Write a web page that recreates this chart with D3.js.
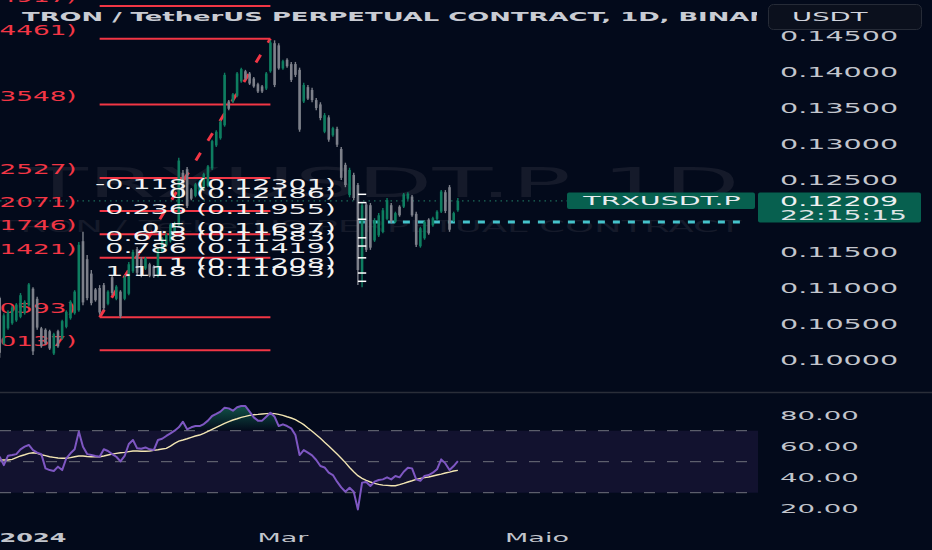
<!DOCTYPE html>
<html>
<head>
<meta charset="utf-8">
<script src="https://d3js.org/d3.v7.min.js"></script>
<style>
  html, body { margin: 0; padding: 0; background: #030a1b; }
  svg { display: block; }
</style>
</head>
<body>
<svg id="frame"></svg>
<script>
  // daily bars, first one is 2023-12-24
  var firstDay = '2023-12-24';

  var opens = [.1086,.1023,.1044,.1051,.1055,.1060,.1065,.1076,.1099,.1085,
    .1044,.1042,.1040,.1009,.1040,.1030,.1046,.1058,.1065,.1069,
    .1165,.1140,.1120,.1098,.1100,.1104,.1078,.1115,.1085,.1095,
    .1085,.1092,.1123,.1154,.1140,.1127,.1133,.1130,.1117,.1151,
    .1159,.1165,.1178,.1187,.1260,.1265,.1237,.1228,.1234,.1238,
    .1242,.1266,.1298,.1308,.1326,.1359,.1359,.1367,.1387,.1401,
    .1398,.1391,.1383,.1380,.1377,.1401,.1440,.1437,.1405,.1417,
    .1411,.1411,.1403,.1359,.1379,.1375,.1361,.1355,.1317,.1337,
    .1312,.1321,.1293,.1271,.1229,.1257,.1243,.1120,.1216,.1215,
    .1166,.1173,.1178,.1196,.1215,.1192,.1213,.1213,.1224,.1227,
    .1203,.1158,.1169,.1195,.1187,.1196,.1206,.1233,.1240,.1194,.1208];
  var highs = [.1088,.1065,.1069,.1075,.1079,.1093,.1083,.1107,.1101,.1088,
    .1046,.1044,.1042,.1038,.1042,.1056,.1069,.1083,.1097,.1164,
    .1178,.1146,.1125,.1100,.1104,.1107,.1097,.1118,.1104,.1097,
    .1118,.1136,.1153,.1157,.1143,.1143,.1135,.1132,.1157,.1171,
    .1176,.1190,.1192,.1281,.1264,.1268,.1239,.1246,.1250,.1260,
    .1271,.1306,.1319,.1333,.1399,.1361,.1371,.1400,.1406,.1403,
    .1400,.1393,.1385,.1382,.1400,.1444,.1444,.1440,.1417,.1419,
    .1414,.1414,.1406,.1385,.1382,.1378,.1364,.1358,.1343,.1340,
    .1324,.1324,.1296,.1274,.1267,.1260,.1246,.1218,.1219,.1218,
    .1197,.1204,.1211,.1225,.1218,.1206,.1215,.1232,.1233,.1229,
    .1206,.1185,.1194,.1197,.1199,.1208,.1236,.1236,.1243,.1206,.1225];
  var lows = [.1003,.1021,.1042,.1049,.1053,.1058,.1063,.1074,.1007,.1042,
    .1017,.1021,.1014,.1007,.1017,.1028,.1044,.1056,.1063,.1067,
    .1076,.1083,.1076,.1081,.1063,.1069,.1076,.1090,.1083,.1058,
    .1083,.1090,.1121,.1118,.1115,.1125,.1115,.1114,.1115,.1149,
    .1157,.1163,.1176,.1185,.1226,.1211,.1222,.1226,.1232,.1236,
    .1240,.1264,.1296,.1306,.1324,.1347,.1357,.1365,.1385,.1389,
    .1382,.1378,.1371,.1371,.1375,.1399,.1379,.1403,.1403,.1406,
    .1386,.1393,.1317,.1357,.1361,.1358,.1347,.1333,.1315,.1303,
    .1310,.1296,.1250,.1240,.1226,.1222,.1104,.1101,.1150,.1153,
    .1164,.1171,.1176,.1194,.1190,.1190,.1199,.1211,.1222,.1199,
    .1157,.1156,.1167,.1174,.1185,.1194,.1204,.1204,.1178,.1192,.1206];
  var closes = [.1010,.1062,.1067,.1073,.1077,.1090,.1081,.1105,.1012,.1045,
    .1019,.1023,.1016,.1036,.1019,.1054,.1067,.1081,.1095,.1160,
    .1080,.1086,.1079,.1083,.1066,.1072,.1095,.1093,.1102,.1061,
    .1115,.1133,.1150,.1121,.1118,.1141,.1117,.1116,.1155,.1169,
    .1174,.1188,.1190,.1277,.1229,.1214,.1224,.1244,.1248,.1258,
    .1269,.1304,.1317,.1331,.1396,.1349,.1369,.1398,.1404,.1391,
    .1384,.1380,.1373,.1373,.1398,.1441,.1382,.1405,.1415,.1408,
    .1389,.1396,.1320,.1382,.1363,.1361,.1350,.1336,.1340,.1306,
    .1322,.1299,.1253,.1243,.1264,.1225,.1125,.1215,.1153,.1156,
    .1194,.1201,.1208,.1222,.1193,.1204,.1201,.1230,.1231,.1201,
    .1160,.1183,.1192,.1176,.1197,.1206,.1234,.1207,.1181,.1204,.12209];

  var rsi = [53.2,47.8,53.9,54.3,54.9,58.0,59.7,60.8,57.5,55.8,
    54.9,45.7,44.6,44.0,46.8,44.6,52.2,55.4,58.0,69.4,
    59.7,54.9,54.3,53.7,53.2,58.0,56.9,54.9,53.2,50.2,
    53.7,61.4,64.0,58.6,58.4,59.2,58.0,57.5,64.0,64.8,
    66.6,68.3,70.0,72.2,75.8,70.9,72.2,73.0,73.0,74.3,
    76.5,79.5,80.8,82.3,84.8,84.4,82.9,85.1,85.9,85.9,
    82.3,78.6,76.5,76.5,79.0,81.6,79.0,73.0,74.1,73.0,
    71.5,67.2,54.3,57.5,55.8,54.1,51.1,47.2,46.3,42.9,
    41.4,37.1,33.4,30.6,33.2,30.6,19.2,36.5,36.9,34.3,
    37.1,38.2,38.6,39.9,38.6,40.8,39.9,43.5,46.1,45.7,
    38.6,37.7,40.8,41.4,42.9,45.1,51.5,48.9,44.6,47.2,50.4];
  var rsiMa = [51.1,51.1,51.1,51.5,52.6,53.7,54.5,55.4,55.8,55.4,
    54.5,53.9,53.2,52.8,52.4,52.2,52.2,52.6,53.2,53.7,
    53.7,53.4,53.2,53.2,53.2,53.7,54.3,54.9,55.4,55.8,
    56.0,56.5,56.9,56.9,56.7,56.7,56.9,57.3,57.7,58.2,
    58.6,60.1,61.8,63.3,64.0,64.8,65.7,66.6,67.2,68.3,
    69.6,70.9,72.2,73.4,74.7,75.8,76.9,77.7,78.6,79.2,
    79.9,80.3,80.5,80.8,81.0,81.2,81.0,80.5,79.9,79.0,
    78.2,77.1,75.6,73.9,71.7,69.6,67.4,65.1,62.5,60.1,
    57.5,54.9,52.2,49.4,46.3,43.5,41.0,39.2,37.9,36.9,
    36.0,35.4,34.9,34.7,34.5,34.5,35.2,36.0,36.9,37.7,
    38.6,39.2,39.7,40.1,40.8,41.4,42.0,42.7,43.3,44.0,44.4];

  var priceTicks = [0.145, 0.140, 0.135, 0.130, 0.125, 0.115, 0.110, 0.105, 0.100];
  var rsiTicks = [80, 60, 40, 20];
  var rsiLevels = [70, 50, 30];
  var dateTicks = ['2024-01-01', '2024-03-01', '2024-05-01'];
  var dateLabels = ['2024', 'Mar', 'Maio'];

  // fib drawn from the Jan low to the Feb high
  var redFibRatios = ['-0.118', '0', '0.236', '0.5', '0.618', '0.705', '0.786', '1', '1.118'];
  var redFibPrices = [0.14917, 0.14461, 0.13548, 0.12527, 0.12071, 0.11746, 0.11421, 0.10593, 0.10137];
  var redFibBars = [24, 65];
  // fib on the March drop
  var whiteFibRatios = ['-0.118', '0', '0.236', '0.5', '0.618', '0.786', '1', '1.118'];
  var whiteFibPrices = [0.12301, 0.12186, 0.11955, 0.11697, 0.11583, 0.11419, 0.11208, 0.11093];
  var whiteFibBars = [86, 88];
  var rayPrice = 0.11917, rayFromBar = 86, rayTo = '2024-06-20';
  var lastPrice = 0.12209, countdown = '22:15:15';

  var W = 932, H = 550;
  var svg = d3.select('#frame').attr('width', W).attr('height', H);
  var FONT = 'DejaVu Sans, sans-serif';

  var t0 = new Date(firstDay + 'T00:00:00Z').getTime();
  var dates = closes.map(function(d, i){ return new Date(t0 + i * 864e5); });

  var x = d3.scaleUtc()
    .domain([new Date('2024-01-01T00:00:00Z'), new Date('2024-05-01T00:00:00Z')])
    .range([33, 537]);
  var y = d3.scaleLinear().domain([0.100, 0.145]).range([360, 36]);
  var yR = d3.scaleLinear().domain([20, 80]).range([508.2, 415.2]);

  // wide stretched text like the screenshot
  function stext(parent, str, px, py, o) {
    var g = parent.append('g')
      .attr('transform', 'translate(' + px + ',' + py + ') scale(' + (o.k || 1.92) + ',1)');
    return g.append('text')
      .attr('text-anchor', o.anchor || 'start')
      .attr('font-family', FONT)
      .attr('font-size', o.size || 13.7)
      .attr('font-weight', o.weight || 'normal')
      .attr('fill', o.fill || '#c2c5cc')
      .text(str);
  }

  svg.append('rect').attr('width', W).attr('height', H).attr('fill', '#030a1b');

  var defs = svg.append('defs');
  defs.append('clipPath').attr('id', 'pane')
    .append('rect').attr('x', 0).attr('y', 0).attr('width', 758).attr('height', 392);
  defs.append('clipPath').attr('id', 'titleClip')
    .append('rect').attr('x', 0).attr('y', 0).attr('width', 757).attr('height', 30);
  var grad = defs.append('linearGradient').attr('id', 'obFill')
    .attr('gradientUnits', 'userSpaceOnUse')
    .attr('x1', 0).attr('x2', 0).attr('y1', yR(88)).attr('y2', yR(70));
  grad.append('stop').attr('offset', '0').attr('stop-color', '#1f9f76').attr('stop-opacity', 0.55);
  grad.append('stop').attr('offset', '1').attr('stop-color', '#1f9f76').attr('stop-opacity', 0);

  var pane = svg.append('g').attr('clip-path', 'url(#pane)');

  // watermark
  stext(pane, 'TRXUSDT.P 1D', 28, 197, {size: 40, k: 2.45, fill: '#151a2a'});
  stext(pane, 'TRON / TetherUS PERPETUAL CONTRACT', -2, 232, {size: 16.4, k: 2.25, fill: '#151a2a'});

  // last price dotted line
  pane.append('line')
    .attr('x1', 0).attr('x2', 567)
    .attr('y1', y(lastPrice)).attr('y2', y(lastPrice))
    .attr('stroke', '#1d6b5a').attr('stroke-width', 1.2).attr('stroke-dasharray', '1.5,4');

  // cyan ray
  pane.append('line')
    .attr('x1', x(dates[rayFromBar])).attr('x2', x(new Date(rayTo + 'T00:00:00Z')))
    .attr('y1', y(rayPrice)).attr('y2', y(rayPrice))
    .attr('stroke', '#45c3cb').attr('stroke-width', 3).attr('stroke-dasharray', '7,8');

  // red fib
  var rx1 = x(dates[redFibBars[0]]), rx2 = x(dates[redFibBars[1]]);
  pane.selectAll('line.redfib')
    .data(redFibPrices)
    .enter().append('line')
    .attr('class', 'redfib')
    .attr('x1', rx1).attr('x2', rx2)
    .attr('y1', function(d){ return y(d); }).attr('y2', function(d){ return y(d); })
    .attr('stroke', '#f23645').attr('stroke-width', 2);
  redFibPrices.forEach(function(p, i){
    stext(pane, redFibRatios[i] + ' (' + p.toFixed(5) + ')', rx1 - 23, y(p) - 4,
      {anchor: 'end', fill: '#f23645'});
  });

  // trend line of the fib
  pane.append('line')
    .attr('x1', rx1).attr('y1', y(redFibPrices[7]))
    .attr('x2', rx2).attr('y2', y(redFibPrices[1]))
    .attr('stroke', '#f23645').attr('stroke-width', 3).attr('stroke-dasharray', '9,14');

  // bars
  var bars = pane.append('g');
  bars.selectAll('line.wick')
    .data(closes)
    .enter().append('line')
    .attr('class', 'wick')
    .attr('x1', function(d, i){ return x(dates[i]); })
    .attr('x2', function(d, i){ return x(dates[i]); })
    .attr('y1', function(d, i){ return y(highs[i]); })
    .attr('y2', function(d, i){ return y(lows[i]); })
    .attr('stroke', function(d, i){ return d >= opens[i] ? '#0e7d60' : '#7d808a'; })
    .attr('stroke-width', 1.4);
  bars.selectAll('rect.body')
    .data(closes)
    .enter().append('rect')
    .attr('class', 'body')
    .attr('x', function(d, i){ return x(dates[i]) - 1.3; })
    .attr('width', 2.6)
    .attr('y', function(d, i){ return y(Math.max(d, opens[i])); })
    .attr('height', function(d, i){ return Math.max(1, Math.abs(y(d) - y(opens[i]))); })
    .attr('fill', function(d, i){ return d >= opens[i] ? '#0e7d60' : '#7d808a'; });

  // white fib
  var wx1 = x(dates[whiteFibBars[0]]), wx2 = x(dates[whiteFibBars[1]]);
  pane.selectAll('line.whitefib')
    .data(whiteFibPrices)
    .enter().append('line')
    .attr('class', 'whitefib')
    .attr('x1', wx1).attr('x2', wx2)
    .attr('y1', function(d){ return y(d); }).attr('y2', function(d){ return y(d); })
    .attr('stroke', '#ffffff').attr('stroke-width', 1.5);
  whiteFibPrices.forEach(function(p, i){
    stext(pane, whiteFibRatios[i] + ' (' + p.toFixed(5) + ')', wx1 - 22, y(p) - 5,
      {anchor: 'end', fill: '#f2f2f2', k: 2.08});
  });

  // RSI pane
  svg.append('rect')
    .attr('x', 0).attr('width', 758)
    .attr('y', yR(70)).attr('height', yR(30) - yR(70))
    .attr('fill', '#12122f');
  svg.selectAll('line.rsilvl')
    .data(rsiLevels)
    .enter().append('line')
    .attr('class', 'rsilvl')
    .attr('x1', 0).attr('x2', 758)
    .attr('y1', function(d){ return yR(d); }).attr('y2', function(d){ return yR(d); })
    .attr('stroke', '#6f727d').attr('stroke-width', 1).attr('stroke-dasharray', '11,12');

  var area = d3.area()
    .x(function(d, i){ return x(dates[i]); })
    .y0(yR(70))
    .y1(function(d){ return yR(Math.max(d, 70)); });
  svg.append('path').datum(rsi).attr('d', area).attr('fill', 'url(#obFill)');

  var lineR = d3.line().x(function(d, i){ return x(dates[i]); }).y(function(d){ return yR(d); });
  svg.append('path').datum(rsiMa).attr('d', lineR)
    .attr('fill', 'none').attr('stroke', '#f3e6b3').attr('stroke-width', 1.4);
  svg.append('path').datum(rsi).attr('d', lineR)
    .attr('fill', 'none').attr('stroke', '#7e57c2').attr('stroke-width', 2).attr('stroke-linejoin', 'round');

  // separator
  svg.append('line').attr('x1', 0).attr('x2', W).attr('y1', 392.5).attr('y2', 392.5)
    .attr('stroke', '#2a2e39').attr('stroke-width', 1.5);

  // axes labels
  priceTicks.forEach(function(p){
    stext(svg, d3.format('.5f')(p), 780, y(p) + 5.3, {size: 14.5, k: 1.97});
  });
  rsiTicks.forEach(function(v){
    stext(svg, d3.format('.2f')(v), 780, yR(v) + 4.6, {size: 13, k: 2.12});
  });
  dateTicks.forEach(function(d, i){
    var bold = i == 0;
    stext(svg, dateLabels[i], x(new Date(d + 'T00:00:00Z')), 541.5,
      {anchor: 'middle', size: 12.5, k: bold ? 1.92 : 2.16, weight: bold ? 'bold' : 'normal'});
  });

  // last price boxes
  var ly = y(lastPrice);
  svg.append('rect').attr('x', 567).attr('y', ly - 8.5).attr('width', 188).attr('height', 16.5)
    .attr('rx', 2).attr('fill', '#07604f');
  stext(svg, 'TRXUSDT.P', 662, ly + 4.3, {anchor: 'middle', size: 12, k: 2.37, fill: '#e8ecef'});
  svg.append('rect').attr('x', 758).attr('y', ly - 8.5).attr('width', 163).attr('height', 30)
    .attr('rx', 2).attr('fill', '#07604f');
  stext(svg, d3.format('.5f')(lastPrice), 780, ly + 4.8, {size: 14.5, k: 1.97, fill: '#eef1f2'});
  stext(svg, countdown, 780, ly + 19, {size: 14.5, k: 1.95, fill: '#dfe4e6'});

  // currency button
  svg.append('rect').attr('x', 768.5).attr('y', 4.5).attr('width', 153).attr('height', 25)
    .attr('rx', 5).attr('fill', '#0b101d').attr('stroke', '#262b37').attr('stroke-width', 1);
  stext(svg, 'USDT', 792, 21, {size: 12.5, k: 2.2, fill: '#d1d4dc'});

  // title
  var title = svg.append('g').attr('clip-path', 'url(#titleClip)');
  stext(title, 'TRON / TetherUS PERPETUAL CONTRACT, 1D, BINANCE', 22, 20.7,
    {size: 12.5, k: 2.07, weight: 'bold', fill: '#c9ccd3'});
</script>
</body>
</html>
